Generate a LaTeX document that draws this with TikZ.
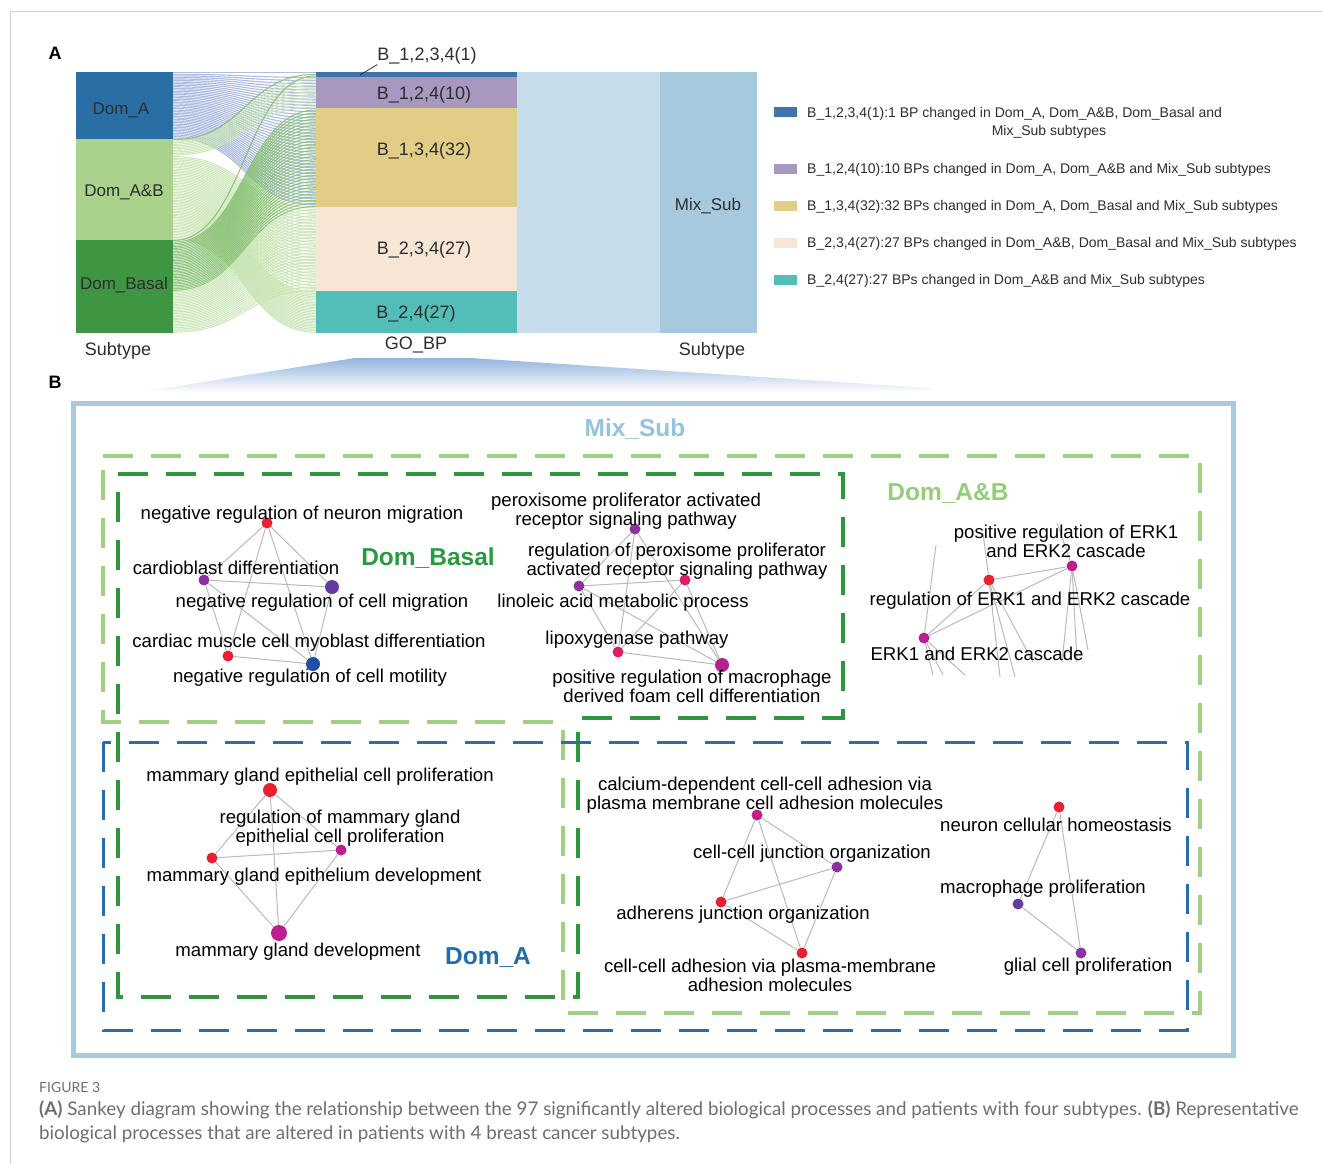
\documentclass[tikz,border=0pt]{standalone}
\usepackage{fontspec}
\setmainfont{Liberation Sans}
\newfontfamily\capfont{Lato}
\usepackage{tikz}

\definecolor{domA}{RGB}{42,110,166}
\definecolor{domAB}{RGB}{170,210,140}
\definecolor{domBasal}{RGB}{62,150,66}
\definecolor{bOne}{RGB}{62,118,170}
\definecolor{bTwo}{RGB}{168,152,192}
\definecolor{bThree}{RGB}{226,205,135}
\definecolor{bFour}{RGB}{247,230,214}
\definecolor{bFive}{RGB}{83,190,183}
\definecolor{flowMix}{RGB}{198,220,234}
\definecolor{mixSub}{RGB}{166,201,221}
\definecolor{fanTop}{RGB}{148,180,222}
\definecolor{lnkA}{RGB}{160,178,218}
\definecolor{lnkAB}{RGB}{200,228,180}
\definecolor{lnkB}{RGB}{135,192,115}
\definecolor{txtdark}{RGB}{45,45,45}
\definecolor{frameMix}{RGB}{166,203,222}
\definecolor{dashAB}{RGB}{160,208,128}
\definecolor{dashBasal}{RGB}{46,150,62}
\definecolor{dashA}{RGB}{38,110,172}
\definecolor{ttlAB}{RGB}{150,205,120}
\definecolor{ttlBasal}{RGB}{40,155,65}
\definecolor{ttlA}{RGB}{30,110,175}
\definecolor{ttlMix}{RGB}{150,195,220}
\definecolor{cRed}{RGB}{232,32,50}
\definecolor{cPink}{RGB}{222,30,100}
\definecolor{cMag}{RGB}{190,30,140}
\definecolor{cPur}{RGB}{140,50,160}
\definecolor{cVio}{RGB}{100,60,160}
\definecolor{cBlue}{RGB}{30,80,170}
\definecolor{capgray}{RGB}{110,110,110}

\begin{document}
\begin{tikzpicture}[x=1pt, y=-1pt,
    sbox/.style={inner sep=0pt, font=\fontsize{17}{18}\selectfont, text=txtdark},
    band/.style={inner sep=0pt, minimum width=201pt},
    slab/.style={inner sep=0pt, font=\fontsize{18}{19}\selectfont, text=txtdark},
    legsq/.style={inner sep=0pt, minimum width=23pt, minimum height=10pt},
    legtxt/.style={inner sep=0pt, anchor=west, font=\fontsize{14}{15}\selectfont, text=txtdark},
    link/.style={line width=1.15pt, draw opacity=0.85},
    region/.style={line width=4pt, dash pattern=on 30pt off 18pt},
    ttl/.style={inner sep=0pt, font=\fontsize{24.5}{26}\selectfont\bfseries},
    bp/.style={inner sep=0pt, align=center, yshift=-1.5pt, font=\fontsize{18.6}{19}\selectfont},
    dot/.style={circle, inner sep=0pt, minimum size=11pt},
    bigdot/.style={dot, minimum size=14pt},
    edge/.style={draw=black!27, line width=1pt},
    panel/.style={inner sep=0pt, font=\fontsize{18}{19}\selectfont\bfseries},
    capt/.style={inner sep=0pt, anchor=west, text=capgray, font=\capfont\fontsize{18.8}{20}\selectfont}
]
    \useasboundingbox (0,0) rectangle (1322,1164);
    \draw[black!18, line width=1pt] (10,1164) -- (10,12) -- (1322,12);

    % panel A: sankey
    \node[panel] (pA) at (55,53) {A};
    \fill[flowMix] (517,72) rectangle (660,333);
    \foreach \L/\M/\n/\s/\k/\c in {0/0/1/3/0/lnkA, 1/3/10/2/0/lnkA, 11/23/32/2/0/lnkA,
        43/0/1/3/1/lnkB, 44/3/10/2/1/lnkAB, 54/87/27/2/0/lnkAB, 81/141/27/1/0/lnkAB,
        108/0/1/3/2/lnkB, 109/23/32/2/1/lnkB, 141/87/27/2/1/lnkAB}{
      \foreach \i in {1,...,\n}{
        \pgfmathsetmacro\ya{72+(\L+\i-0.5)*1.5536}
        \pgfmathsetmacro\yb{72+(\M+\s*(\i-1)+\k+0.5)*1.5536}
        \draw[link, draw=\c] (173,\ya) .. controls (245,\ya) and (245,\yb) .. (316,\yb);
      }
    }
    \node[sbox, fill=domA, minimum width=97pt, minimum height=67pt] (domA) at (124.5,105.5) {};
    \node[sbox, fill=domAB, minimum width=97pt, minimum height=101pt] (domAB) at (124.5,189.5) {};
    \node[sbox, fill=domBasal, minimum width=97pt, minimum height=93pt] (domBasal) at (124.5,286.5) {};
    \node[sbox] (domAl) at (121,110) {Dom\_A};
    \node[sbox] (domABl) at (124,192) {Dom\_A\&B};
    \node[sbox] (domBasall) at (124,285) {Dom\_Basal};

    \node[band, fill=bOne, minimum height=5pt] (b1234) at (416.5,74.5) {};
    \node[band, fill=bTwo, minimum height=31pt] (b124) at (416.5,92.5) {};
    \node[band, fill=bThree, minimum height=99pt] (b134) at (416.5,157.5) {};
    \node[band, fill=bFour, minimum height=84pt] (b234) at (416.5,249) {};
    \node[band, fill=bFive, minimum height=42pt] (b24) at (416.5,312) {};
    \node[slab] (b1234l) at (427,56) {B\_1,2,3,4(1)};
    \node[slab] (b124l) at (424,95) {B\_1,2,4(10)};
    \node[slab] (b134l) at (424,151) {B\_1,3,4(32)};
    \node[slab] (b234l) at (424,250) {B\_2,3,4(27)};
    \node[slab] (b24l) at (416,314) {B\_2,4(27)};
    \coordinate (tick) at (360,75);
    \draw[txtdark, line width=0.8pt] (tick) -- (b1234l.south west);

    \node[sbox, fill=mixSub, minimum width=97pt, minimum height=261pt] (mix) at (708.5,202.5) {};
    \node[sbox] (mixl) at (708,206) {Mix\_Sub};

    \node[slab] (ax1) at (118,351) {Subtype};
    \node[slab] (ax2) at (416,345) {GO\_BP};
    \node[slab] (ax3) at (712,351) {Subtype};

    % legend
    \node[legsq, fill=bOne] (lg1) at (785.5,112) {};
    \node[legsq, fill=bTwo] (lg2) at (785.5,169) {};
    \node[legsq, fill=bThree] (lg3) at (785.5,206) {};
    \node[legsq, fill=bFour] (lg4) at (785.5,243) {};
    \node[legsq, fill=bFive] (lg5) at (785.5,280) {};
    \node[legtxt] (lt1) at (807,114) {B\_1,2,3,4(1):1 BP changed in Dom\_A, Dom\_A\&B, Dom\_Basal and};
    \node[legtxt, anchor=center] (lt1b) at (1049,132) {Mix\_Sub subtypes};
    \node[legtxt] (lt2) at (807,170) {B\_1,2,4(10):10 BPs changed in Dom\_A, Dom\_A\&B and Mix\_Sub subtypes};
    \node[legtxt] (lt3) at (807,207) {B\_1,3,4(32):32 BPs changed in Dom\_A, Dom\_Basal and Mix\_Sub subtypes};
    \node[legtxt] (lt4) at (807,244) {B\_2,3,4(27):27 BPs changed in Dom\_A\&B, Dom\_Basal and Mix\_Sub subtypes};
    \node[legtxt] (lt5) at (807,281) {B\_2,4(27):27 BPs changed in Dom\_A\&B and Mix\_Sub subtypes};

    % panel B
    \node[panel] (pB) at (55,382) {B};
    \shade[top color=fanTop, bottom color=white] (140,392) -- (355,358) -- (470,358) -- (930,388) -- (930,392) -- cycle;
    \draw[frameMix, line width=5pt] (73,403) rectangle (1233,1055);
    \node[ttl, text=ttlMix] (mixt) at (635,429) {Mix\_Sub};
    \draw[region, dashAB] (103,456) -- (1200,456) -- (1200,1013) -- (563,1013) -- (563,722) -- (103,722) -- cycle;
    \draw[region, dashBasal] (118,474) -- (843,474) -- (843,718) -- (578,718) -- (578,997) -- (118,997) -- cycle;
    \draw[region, dashA, line width=3pt] (103,742) rectangle (1187,1030);
    \node[ttl, text=ttlBasal] (basalt) at (428,558) {Dom\_Basal};
    \node[ttl, text=ttlAB] (abt) at (948,494) {Dom\_A\&B};
    \node[ttl, text=ttlA] (at) at (488,958) {Dom\_A};

    % Dom_Basal networks
    \node[dot, fill=cRed] (n1) at (267,523) {};
    \node[dot, fill=cPur] (n2) at (204,580) {};
    \node[bigdot, fill=cVio] (n3) at (332,587) {};
    \node[dot, fill=cRed] (n4) at (228,656) {};
    \node[bigdot, fill=cBlue] (n5) at (313,664) {};
    \foreach \a/\b in {n1/n2, n1/n3, n1/n4, n1/n5, n2/n3, n2/n4, n2/n5, n3/n5, n4/n5}
      \draw[edge] (\a) -- (\b);
    \node[bp] (n1l) at (302,513) {negative regulation of neuron migration};
    \node[bp] (n2l) at (236,566) {cardioblast differentiation};
    \node[bp] (n3l) at (322,601) {negative regulation of cell migration};
    \node[bp] (n4l) at (309,641) {cardiac muscle cell myoblast differentiation};
    \node[bp] (n5l) at (310,676) {negative regulation of cell motility};

    \node[dot, fill=cPur] (m1) at (635,529) {};
    \node[dot, fill=cPink] (m2) at (685,580) {};
    \node[dot, fill=cPur] (m3) at (579,586) {};
    \node[dot, fill=cPink] (m4) at (618,652) {};
    \node[bigdot, fill=cMag!80!cPur] (m5) at (722,665) {};
    \foreach \a/\b in {m1/m3, m1/m4, m1/m5, m3/m2, m3/m5, m3/m4, m2/m4, m2/m5, m4/m5}
      \draw[edge] (\a) -- (\b);
    \node[bp] (m1l) at (626,510) {peroxisome proliferator activated\\receptor signaling pathway};
    \node[bp] (m2l) at (677,560) {regulation of peroxisome proliferator\\activated receptor signaling pathway};
    \node[bp] (m3l) at (623,601) {linoleic acid metabolic process};
    \node[bp] (m4l) at (637,638) {lipoxygenase pathway};
    \node[bp] (m5l) at (692,685) {positive regulation of macrophage\\derived foam cell differentiation};

    % Dom_A&B network
    \node[dot, fill=cMag] (e1) at (1072,566) {};
    \node[dot, fill=cRed] (e2) at (989,580) {};
    \node[dot, fill=cMag!80!cPur] (e3) at (924,638) {};
    \foreach \a/\b in {e1/e2, e1/e3, e2/e3}
      \draw[edge] (\a) -- (\b);
    \foreach \p/\x/\y/\e in {d1/936/545/e3, d2/933/675/e3, d3/943/675/e3, d4/965/675/e3,
        d5/983/533/e2, d6/1000/677/e2, d7/1015/677/e2, d8/1033/662/e2,
        d9/1057/523/e1, d10/1062/662/e1, d11/1077/662/e1, d12/1088/650/e1}{
      \coordinate (\p) at (\x,\y);
      \draw[edge] (\e) -- (\p);
    }
    \node[bp] (e1l) at (1066,540) {positive regulation of ERK1\\and ERK2 cascade};
    \node[bp] (e2l) at (1030,599) {regulation of ERK1 and ERK2 cascade};
    \node[bp] (e3l) at (977,652) {ERK1 and ERK2 cascade};

    % Dom_A network
    \node[bigdot, fill=cRed] (a1) at (270,790) {};
    \node[dot, fill=cMag] (a2) at (341,850) {};
    \node[dot, fill=cRed] (a3) at (212,858) {};
    \node[bigdot, minimum size=16pt, fill=cMag] (a4) at (279,933) {};
    \foreach \a/\b in {a1/a2, a1/a3, a1/a4, a3/a2, a3/a4, a2/a4}
      \draw[edge] (\a) -- (\b);
    \node[bp] (a1l) at (320,775) {mammary gland epithelial cell proliferation};
    \node[bp] (a2l) at (340,827) {regulation of mammary gland\\epithelial cell proliferation};
    \node[bp] (a3l) at (314,875) {mammary gland epithelium development};
    \node[bp] (a4l) at (298,950) {mammary gland development};

    % Mix_Sub networks
    \node[dot, fill=cMag!85!cPink] (c1) at (757,815) {};
    \node[dot, fill=cPur] (c2) at (837,867) {};
    \node[dot, fill=cRed] (c3) at (721,902) {};
    \node[dot, fill=cRed] (c4) at (802,953) {};
    \foreach \a/\b in {c1/c2, c1/c3, c1/c4, c3/c2, c3/c4, c2/c4}
      \draw[edge] (\a) -- (\b);
    \node[bp] (c1l) at (765,794) {calcium-dependent cell-cell adhesion via\\plasma membrane cell adhesion molecules};
    \node[bp] (c2l) at (812,852) {cell-cell junction organization};
    \node[bp] (c3l) at (743,913) {adherens junction organization};
    \node[bp] (c4l) at (770,974) {cell-cell adhesion via plasma-membrane\\adhesion molecules};

    \node[dot, fill=cRed] (h1) at (1059,807) {};
    \node[dot, fill=cVio] (h2) at (1018,904) {};
    \node[dot, fill=cPur] (h3) at (1081,953) {};
    \foreach \a/\b in {h1/h2, h1/h3, h2/h3}
      \draw[edge] (\a) -- (\b);
    \node[bp] (h1l) at (1056,823) {neuron cellular homeostasis};
    \node[bp] (h2l) at (1043,887) {macrophage proliferation};
    \node[bp] (h3l) at (1088,965) {glial cell proliferation};

    % caption
    \node[capt, font=\capfont\fontsize{14}{15}\selectfont] (fig) at (39,1087) {FIGURE 3};
    \node[capt] (cap1) at (39,1110)
      {\textbf{(A)} Sankey diagram showing the relationship between the 97 significantly altered biological processes and patients with four subtypes. \textbf{(B)} Representative};
    \node[capt] (cap2) at (39,1134)
      {biological processes that are altered in patients with 4 breast cancer subtypes.};
\end{tikzpicture}
\end{document}
